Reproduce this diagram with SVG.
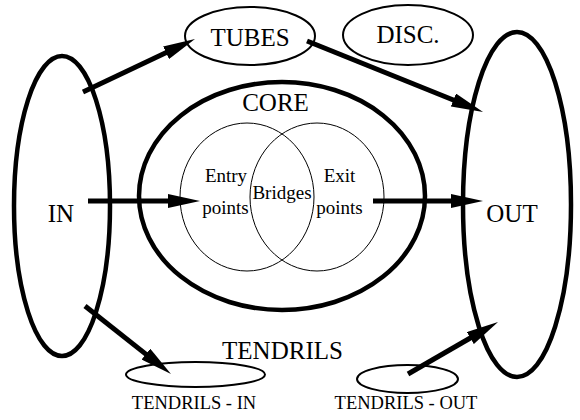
<svg xmlns="http://www.w3.org/2000/svg" width="580" height="420" viewBox="0 0 580 420">
  <style>
    text { font-family: Liberation Serif, Tinos, Times New Roman, Times, DejaVu Serif, serif; fill: #000; text-anchor: middle; }
    .big { font-size: 25px; }
    .mid { font-size: 19px; }
    .small { font-size: 18.5px; }
    .heavy { fill: none; stroke: #000; stroke-width: 4.5; }
    .light { fill: none; stroke: #000; stroke-width: 2; }
    .hair { fill: none; stroke: #000; stroke-width: 1; }
    .edge { fill: none; stroke: #000; stroke-width: 5; stroke-linecap: butt; marker-end: url(#head); }
  </style>
  <defs>
    <marker id="head" markerUnits="userSpaceOnUse" markerWidth="32" markerHeight="14" refX="12" refY="7" orient="auto">
      <path d="M0,0 L32,7 L0,14 z" fill="#000"/>
    </marker>
  </defs>

  <rect width="580" height="420" fill="#fff"/>

  <g id="in">
    <ellipse class="heavy" cx="62" cy="206" rx="48" ry="150"/>
    <text class="big" x="61" y="222">IN</text>
  </g>

  <g id="out">
    <ellipse class="heavy" cx="517" cy="204.5" rx="54" ry="172.5"/>
    <text class="big" x="512" y="222">OUT</text>
  </g>

  <g id="core">
    <ellipse class="heavy" cx="282" cy="196" rx="143" ry="114"/>
    <text class="big" x="275.5" y="111">CORE</text>
  </g>

  <g id="entry-points">
    <ellipse class="hair" cx="247" cy="197" rx="67" ry="74"/>
    <text class="mid" x="226" y="182">Entry</text>
    <text class="mid" x="225.5" y="214">points</text>
  </g>

  <g id="exit-points">
    <ellipse class="hair" cx="317" cy="197" rx="67" ry="74"/>
    <text class="mid" x="339.5" y="182">Exit</text>
    <text class="mid" x="339.5" y="214">points</text>
  </g>

  <g id="bridges">
    <text class="mid" x="282" y="199">Bridges</text>
  </g>

  <g id="tubes">
    <ellipse class="light" cx="250" cy="36" rx="65" ry="29"/>
    <text class="big" x="250" y="46">TUBES</text>
  </g>

  <g id="disc">
    <ellipse class="light" cx="408" cy="35" rx="65" ry="30"/>
    <text class="big" x="408" y="43">DISC.</text>
  </g>

  <g id="tendrils">
    <text class="big" x="282.5" y="359">TENDRILS</text>
  </g>

  <g id="tendrils-in">
    <ellipse class="light" cx="195.5" cy="374.5" rx="69.5" ry="12.5"/>
    <text class="small" x="194" y="409">TENDRILS - IN</text>
  </g>

  <g id="tendrils-out">
    <ellipse class="light" cx="407.5" cy="379" rx="50.5" ry="14"/>
    <text class="small" x="406" y="409">TENDRILS - OUT</text>
  </g>

  <g id="connectors">
    <line class="edge" x1="83" y1="92" x2="176.9" y2="47.6"/>
    <line class="edge" x1="307" y1="41" x2="464.5" y2="104.5"/>
    <line class="edge" x1="88" y1="201" x2="180" y2="201"/>
    <line class="edge" x1="373" y1="201" x2="463" y2="201"/>
    <line class="edge" x1="85" y1="306" x2="155.3" y2="361.6"/>
    <line class="edge" x1="408" y1="374" x2="480.7" y2="332"/>
  </g>
</svg>
